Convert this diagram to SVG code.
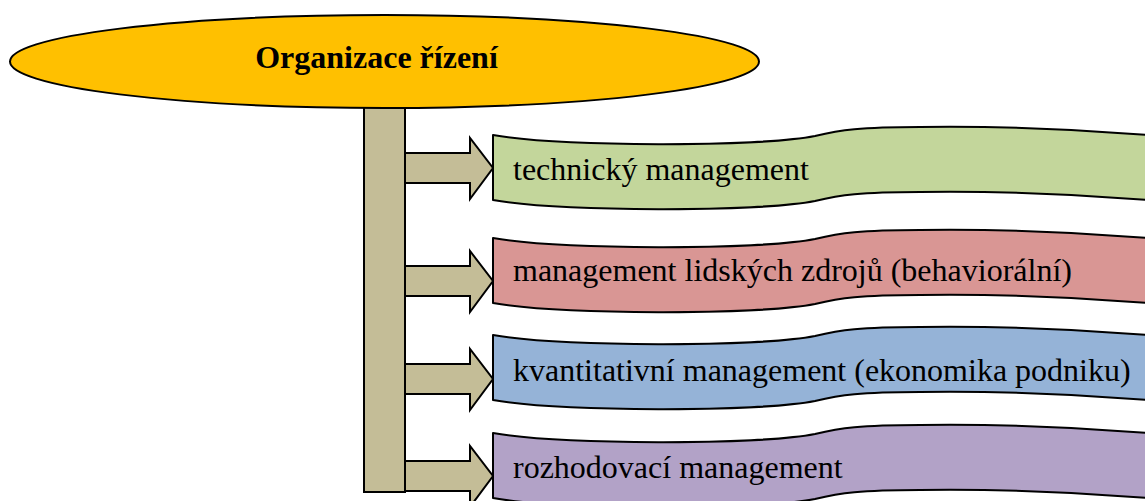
<svg xmlns="http://www.w3.org/2000/svg" width="1145" height="501" viewBox="0 0 1145 501">
<defs>
<style>
.box{stroke:#000;stroke-width:2;stroke-linejoin:round}
.lbl{font-family:"Liberation Serif","Times New Roman",serif;font-size:32px;fill:#000}
.conn{fill:#C4BD97;stroke:#000;stroke-width:2;stroke-linejoin:miter}
</style>
<path id="wave" d="M0,0 C67,12 267,12 322,1 C347,-5 367,-8 427,-8 C507,-9 587,-6 667,1 L667,66 C587,59 507,56 427,57 C367,57 347,60 322,66 C267,77 67,77 0,65 Z"/>
<path id="arrow" d="M405,-15 L470,-15 L470,-30 L493,0 L470,31 L470,15 L405,15 Z"/>
</defs>
<rect width="1145" height="501" fill="#fff"/>
<g id="connectors">
<rect class="conn" x="364" y="100" width="41" height="392"/>
<use href="#arrow" class="conn" transform="translate(0,168)"/>
<use href="#arrow" class="conn" transform="translate(0,281)"/>
<use href="#arrow" class="conn" transform="translate(0,379)"/>
<use href="#arrow" class="conn" transform="translate(0,476)"/>
</g>
<g id="root">
<ellipse cx="384.5" cy="61.5" rx="374.5" ry="46.5" fill="#FFC000" stroke="#000" stroke-width="2"/>
<text class="lbl" x="376.5" y="68" text-anchor="middle" font-weight="bold">Organizace řízení</text>
</g>
<g id="technical">
<use href="#wave" class="box" fill="#C3D69B" transform="translate(493,135)"/>
<text class="lbl" x="513" y="180">technický management</text>
</g>
<g id="hr">
<use href="#wave" class="box" fill="#D99694" transform="translate(493,238)"/>
<text class="lbl" x="513" y="281">management lidských zdrojů (behaviorální)</text>
</g>
<g id="quantitative">
<use href="#wave" class="box" fill="#95B3D7" transform="translate(493,335)"/>
<text class="lbl" x="513" y="381">kvantitativní management (ekonomika podniku)</text>
</g>
<g id="decision">
<use href="#wave" class="box" fill="#B2A2C7" transform="translate(493,433)"/>
<text class="lbl" x="513" y="478">rozhodovací management</text>
</g>
</svg>
